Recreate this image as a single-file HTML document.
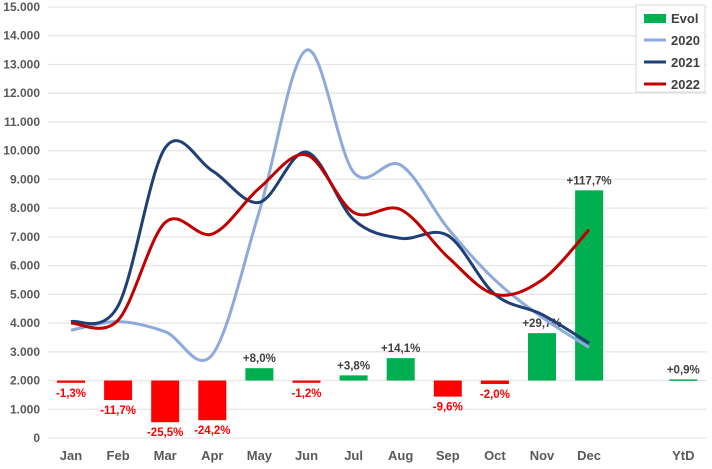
<!DOCTYPE html>
<html><head><meta charset="utf-8"><style>
body{margin:0;background:#fff;}
svg text{font-family:"Liberation Sans",Arial,sans-serif;font-weight:bold;}
</style></head><body>
<svg id="chart" width="712" height="464" xmlns="http://www.w3.org/2000/svg">
<g id="grid"></g>
<g id="yaxis"></g>
<g id="xaxis"></g>
<g id="bars"></g>
<g id="lines"></g>
<g id="legend">
<rect x="636" y="5" width="69" height="87" fill="#fff" stroke="#d9d9d9"/>
<g><rect x="644" y="14" width="22" height="9" fill="#00b050"/><text x="671" y="23" font-size="13" fill="#404040">Evol</text></g>
<g><line x1="644" y1="40" x2="666" y2="40" stroke="#8eaadb" stroke-width="3"/><text x="671" y="45" font-size="13" fill="#404040">2020</text></g>
<g><line x1="644" y1="62" x2="666" y2="62" stroke="#1f3f77" stroke-width="3"/><text x="671" y="67" font-size="13" fill="#404040">2021</text></g>
<g><line x1="644" y1="84" x2="666" y2="84" stroke="#c00000" stroke-width="3"/><text x="671" y="89" font-size="13" fill="#404040">2022</text></g>
</g>
</svg>
<script>
const categories=["Jan","Feb","Mar","Apr","May","Jun","Jul","Aug","Sep","Oct","Nov","Dec","","YtD"];
const yTicks=[0,1000,2000,3000,4000,5000,6000,7000,8000,9000,10000,11000,12000,13000,14000,15000];
const yTickLabels=["0","1.000","2.000","3.000","4.000","5.000","6.000","7.000","8.000","9.000","10.000","11.000","12.000","13.000","14.000","15.000"];
const evolBase=2000;
const evolBarEnd=[1920,1320,550,620,2430,1920,2180,2780,1440,1880,3650,8620,null,2040];
const evolLabels=["-1,3%","-11,7%","-25,5%","-24,2%","+8,0%","-1,2%","+3,8%","+14,1%","-9,6%","-2,0%","+29,7%","+117,7%","","+0,9%"];
const s2020=[3750,4050,3700,2900,7900,13500,9250,9500,7300,5500,4200,3150];
const s2021=[4050,4600,10100,9300,8200,9950,7600,6950,7050,5000,4300,3300];
const s2022=[4000,4100,7500,7100,8700,9850,7850,7950,6300,5000,5500,7250];

const NS="http://www.w3.org/2000/svg";
const x0=71,dx=47.1,yZero=438,yMax=15000,yTop=7;
const X=i=>x0+i*dx;
const Y=v=>yZero-(v/yMax)*(yZero-yTop);
function mk(tag,attrs,parent){const e=document.createElementNS(NS,tag);for(const k in attrs)e.setAttribute(k,attrs[k]);parent.appendChild(e);return e;}
const grid=document.getElementById('grid'),yaxis=document.getElementById('yaxis'),xaxis=document.getElementById('xaxis'),bars=document.getElementById('bars'),lines=document.getElementById('lines');
yTicks.forEach((t,i)=>{
  const l=mk('line',{x1:48,x2:707,y1:Y(t),y2:Y(t),stroke:'#e6e6e6','stroke-width':1.3},grid);
  
  
  const tx=mk('text',{x:40,y:Y(t)+4,'text-anchor':'end','font-size':12,fill:'#595959'},yaxis);
  tx.textContent=yTickLabels[i];
  
  
});
categories.forEach((c,i)=>{
  if(!c)return;
  const tx=mk('text',{x:X(i),y:460,'text-anchor':'middle','font-size':13,fill:'#595959'},xaxis);
  tx.textContent=c;
  
  
});
evolBarEnd.forEach((v,i)=>{
  if(v===null)return;
  const pos=v>=evolBase;
  const top=Y(Math.max(v,evolBase)),bot=Y(Math.min(v,evolBase));
  const r=mk('rect',{x:X(i)-14,y:top,width:28,height:Math.max(bot-top,1.5),fill:pos?'#00b050':'#ff0000'},bars);
  
  
  const ty=pos?top-6:bot+14;
  const tx=mk('text',{x:X(i),y:ty,'text-anchor':'middle','font-size':11.5,fill:pos?'#404040':'#ff0000'},bars);
  tx.textContent=evolLabels[i];
  
  
});
function smooth(arr){
  const p=arr.map((v,i)=>[X(i),Y(v)]);
  let d=`M${p[0][0]},${p[0][1]}`;
  for(let i=0;i<p.length-1;i++){
    const p0=p[i-1]||p[i],p1=p[i],p2=p[i+1],p3=p[i+2]||p[i+1];
    const c1=[p1[0]+(p2[0]-p0[0])/6,p1[1]+(p2[1]-p0[1])/6];
    const c2=[p2[0]-(p3[0]-p1[0])/6,p2[1]-(p3[1]-p1[1])/6];
    d+=` C${c1[0]},${c1[1]} ${c2[0]},${c2[1]} ${p2[0]},${p2[1]}`;
  }
  return d;
}
[[s2020,'#8eaadb','line-2020'],[s2021,'#1f3f77','line-2021'],[s2022,'#c00000','line-2022']].forEach(([s,c,n])=>{
  const p=mk('path',{d:smooth(s),fill:'none',stroke:c,'stroke-width':3,'stroke-linejoin':'round'},lines);
  
  
});
</script>
</body></html>
